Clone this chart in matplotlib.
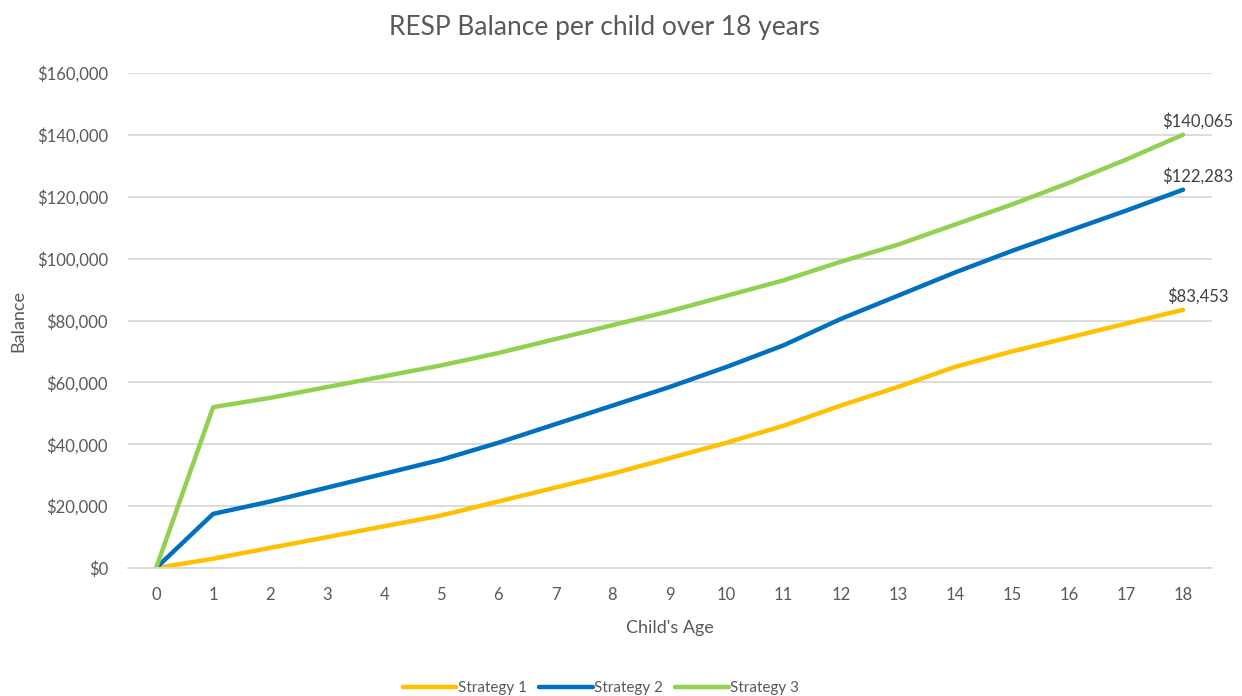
import matplotlib.pyplot as plt
from matplotlib.ticker import FuncFormatter

plt.rcParams['font.family'] = ['Lato', 'DejaVu Sans']

ages = list(range(0, 19))
strategy_1 = [0, 3000, 6500, 10000, 13500, 17000, 21500, 26000, 30500, 35500,
              40500, 46000, 52500, 58500, 65000, 70000, 74500, 79000, 83453]
strategy_2 = [0, 17500, 21500, 26000, 30500, 35000, 40500, 46500, 52500, 58500,
              65000, 72000, 80500, 88000, 95500, 102500, 109000, 115500, 122283]
strategy_3 = [0, 52000, 55000, 58500, 62000, 65500, 69500, 74000, 78500, 83000,
              88000, 93000, 99000, 104500, 111000, 117500, 124500, 132000, 140065]
series_names = ["Strategy 1", "Strategy 2", "Strategy 3"]
series_colors = ["#FFC000", "#0070C0", "#92D050"]
y_ticks = [0, 20000, 40000, 60000, 80000, 100000, 120000, 140000, 160000]

text_grey = "#595959"
grid_grey = "#D9D9D9"

fig = plt.figure(figsize=(12.42, 6.96), dpi=100)
ax = fig.add_axes([0.1027, 0.1839, 0.8728, 0.7112])

for vals, name, col in zip([strategy_1, strategy_2, strategy_3], series_names, series_colors):
    ax.plot(ages, vals, color=col, lw=3.2, label=name, solid_capstyle='round')
    # end-of-line value label
    ax.annotate(f"${vals[-1]:,}", (ages[-1], vals[-1]), xytext=(15, 5),
                textcoords='offset pixels', ha='center', va='bottom',
                fontsize=12, color="#404040")

ax.set_xlim(-0.5, 18.5)
ax.set_ylim(0, 160000)
ax.set_xticks(ages)
ax.set_yticks(y_ticks)
ax.yaxis.set_major_formatter(FuncFormatter(lambda v, p: f"${int(v):,}"))
ax.grid(axis='y', color=grid_grey, lw=1.3)
ax.set_axisbelow(True)
for s in ['top', 'right', 'left']:
    ax.spines[s].set_visible(False)
ax.spines['bottom'].set_color(grid_grey)
ax.spines['bottom'].set_linewidth(1.3)
ax.tick_params(length=0, labelsize=12, colors=text_grey, pad=14)
ax.tick_params(axis='y', pad=14)

ax.set_xlabel("Child's Age", fontsize=13, color=text_grey, labelpad=12)
ax.set_ylabel("Balance", fontsize=13, color=text_grey)
ax.yaxis.set_label_coords(-0.093, 0.5)
fig.suptitle("RESP Balance per child over 18 years", fontsize=19, color=text_grey,
             x=0.487, y=0.978)

ax.legend(loc='center', bbox_to_anchor=(0.484, 0.011), bbox_transform=fig.transFigure,
          ncol=3, frameon=False, fontsize=11, labelcolor=text_grey,
          handlelength=3.5, handletextpad=0.1, columnspacing=0.8)

fig.savefig("out.png", dpi=100)
